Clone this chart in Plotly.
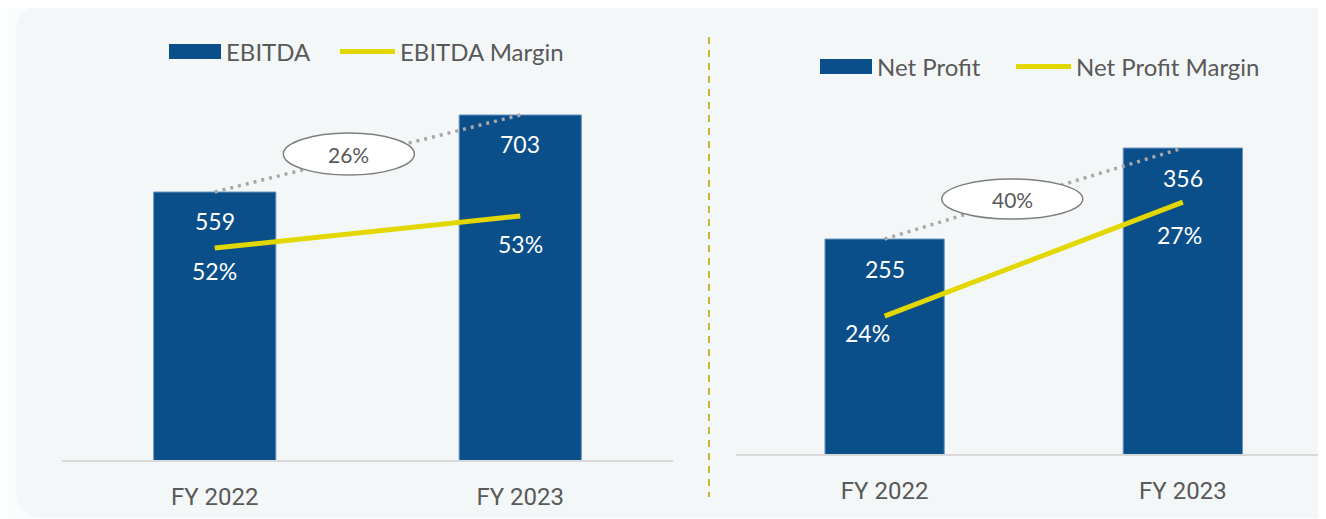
import plotly.graph_objects as go

# Data
categories = ["FY 2022", "FY 2023"]
ebitda = [559, 703]
ebitda_margin = [52, 53]
net_profit = [255, 356]
net_profit_margin = [24, 27]

# page is 1326x519, the figure sits 8px in from the top-left (body margin)
OFF = 8
W, H = 1326 - OFF, 519 - OFF
BAR = "#0A4F8A"
BAR_EDGE = "#6A96C2"
YELLOW = "#E2D800"
DOT = "#A8A8A8"
TXT = "#595959"
LABEL_FONT = "Lato, 'Open Sans', sans-serif"
TICK_FONT = "Roboto, Arial, sans-serif"


def px(x):
    # page pixel -> paper fraction
    return (x - OFF) / W


def py(y):
    return 1 - (y - OFF) / H


def rounded_rect(x0, y0, x1, y1, r):
    # path in paper units, corners drawn with quadratic curves
    rx, ry = r / W, r / H
    a, b, c, d = px(x0), py(y0), px(x1), py(y1)
    return (
        f"M {a + rx},{b} L {c - rx},{b} Q {c},{b} {c},{b - ry} "
        f"L {c},{d + ry} Q {c},{d} {c - rx},{d} "
        f"L {a + rx},{d} Q {a},{d} {a},{d + ry} "
        f"L {a},{b - ry} Q {a},{b} {a + rx},{b} Z"
    )


fig = go.Figure()

# left: EBITDA
fig.add_trace(go.Bar(
    x=categories, y=ebitda, xaxis="x", yaxis="y", width=0.4,
    marker=dict(color=BAR, line=dict(color=BAR_EDGE, width=1)),
    name="EBITDA", hoverinfo="skip",
))
fig.add_trace(go.Scatter(
    x=categories, y=ebitda, xaxis="x", yaxis="y", mode="lines",
    line=dict(color=DOT, width=3.5, dash="3px,5px"), hoverinfo="skip",
))
fig.add_trace(go.Scatter(
    x=categories, y=ebitda_margin, xaxis="x", yaxis="y2", mode="lines",
    line=dict(color=YELLOW, width=5), name="EBITDA Margin",
))

# right: Net Profit
fig.add_trace(go.Bar(
    x=categories, y=net_profit, xaxis="x2", yaxis="y3", width=0.4,
    marker=dict(color=BAR, line=dict(color=BAR_EDGE, width=1)),
    name="Net Profit", hoverinfo="skip",
))
fig.add_trace(go.Scatter(
    x=categories, y=net_profit, xaxis="x2", yaxis="y3", mode="lines",
    line=dict(color=DOT, width=3.5, dash="3px,5px"), hoverinfo="skip",
))
fig.add_trace(go.Scatter(
    x=categories, y=net_profit_margin, xaxis="x2", yaxis="y4", mode="lines",
    line=dict(color=YELLOW, width=5), name="Net Profit Margin",
))

xaxis_style = dict(
    type="category", showline=True, linecolor="#D9D9D9", linewidth=2,
    ticks="outside", ticklen=14, tickcolor="rgba(0,0,0,0)",
    tickfont=dict(family=TICK_FONT, size=24, color=TXT),
    showgrid=False, zeroline=False, fixedrange=True,
)
hidden = dict(visible=False, showgrid=False, zeroline=False, fixedrange=True)

shapes = [
    # background panel
    dict(type="path", xref="paper", yref="paper", layer="below",
         path=rounded_rect(16, 5, 1340, 518, 28),
         fillcolor="#F4F7F8", line=dict(width=0)),
    # divider
    dict(type="line", xref="paper", yref="paper",
         x0=px(709), x1=px(709), y0=py(37), y1=py(497),
         line=dict(color="#C9B53A", width=2, dash="7px,6px")),
]
annotations = []

# legends (drawn by hand so swatches look like the original)
legend_items = [
    ("rect", 169, 221, 51.5, "EBITDA", BAR),
    ("line", 340, 395, 51.5, "EBITDA Margin", YELLOW),
    ("rect", 820, 872, 66.5, "Net Profit", BAR),
    ("line", 1016, 1071, 66.5, "Net Profit Margin", YELLOW),
]
for kind, x0, x1, yc, label, color in legend_items:
    if kind == "rect":
        shapes.append(dict(type="rect", xref="paper", yref="paper",
                           x0=px(x0), x1=px(x1), y0=py(yc - 7.5), y1=py(yc + 7.5),
                           fillcolor=color, line=dict(width=0)))
    else:
        shapes.append(dict(type="line", xref="paper", yref="paper",
                           x0=px(x0), x1=px(x1), y0=py(yc), y1=py(yc),
                           line=dict(color=color, width=5)))
    annotations.append(dict(xref="paper", yref="paper", x=px(x1 + 3), y=py(yc),
                            xanchor="left", yanchor="middle", showarrow=False,
                            text=label, font=dict(family=LABEL_FONT, size=24, color=TXT)))

# value labels inside bars
for xr, yr, vals, shift in [("x", "y", ebitda, -29), ("x2", "y3", net_profit, -30)]:
    for cat, v in zip(categories, vals):
        annotations.append(dict(xref=xr, yref=yr, x=cat, y=v, yshift=shift,
                                showarrow=False, text=str(v),
                                font=dict(family=LABEL_FONT, size=23, color="white")))

# margin labels
for xr, yr, vals, shifts in [
    ("x", "y2", ebitda_margin, [(0, -23), (0, -28)]),
    ("x2", "y4", net_profit_margin, [(-17, -17), (-3, -33)]),
]:
    for cat, v, (dx, dy) in zip(categories, vals, shifts):
        annotations.append(dict(xref=xr, yref=yr, x=cat, y=v, xshift=dx, yshift=dy,
                                showarrow=False, text=f"{v}%",
                                font=dict(family=LABEL_FONT, size=23, color="white")))

# growth bubbles
for xr, yr, vals, ax, ay, w, h in [
    ("x", "y", ebitda, 0.439, 630, 131, 42),
    ("x2", "y3", net_profit, 0.428, 299.4, 141, 40),
]:
    growth = (vals[1] / vals[0] - 1) * 100
    shapes.append(dict(type="circle", xref=xr, yref=yr, layer="above",
                       xsizemode="pixel", ysizemode="pixel", xanchor=ax, yanchor=ay,
                       x0=-w / 2, x1=w / 2, y0=-h / 2, y1=h / 2,
                       fillcolor="white", line=dict(color="#7F7F7F", width=1.5)))
    annotations.append(dict(xref=xr, yref=yr, x=ax, y=ay, showarrow=False,
                            text=f"{growth:.0f}%",
                            font=dict(family=LABEL_FONT, size=21, color=TXT)))

fig.update_layout(
    width=W, height=H,
    margin=dict(l=0, r=0, t=0, b=0),
    paper_bgcolor="#F9FDFD",
    plot_bgcolor="rgba(0,0,0,0)",
    showlegend=False,
    xaxis=dict(domain=[px(62), px(673)], range=[-0.5, 1.5], anchor="y", **xaxis_style),
    yaxis=dict(domain=[py(460), py(100)], range=[58, 731], anchor="x", **hidden),
    yaxis2=dict(overlaying="y", range=[45.375, 56.625], anchor="x", **hidden),
    xaxis2=dict(domain=[px(735.5), 1.0], range=[-0.5, 1.48], anchor="y3", **xaxis_style),
    yaxis3=dict(domain=[py(454), py(100)], range=[16.4, 409.3], anchor="x2", **hidden),
    yaxis4=dict(overlaying="y3", range=[20.37, 29.69], anchor="x2", **hidden),
    shapes=shapes,
    annotations=annotations,
)

fig.write_html("out.html")
